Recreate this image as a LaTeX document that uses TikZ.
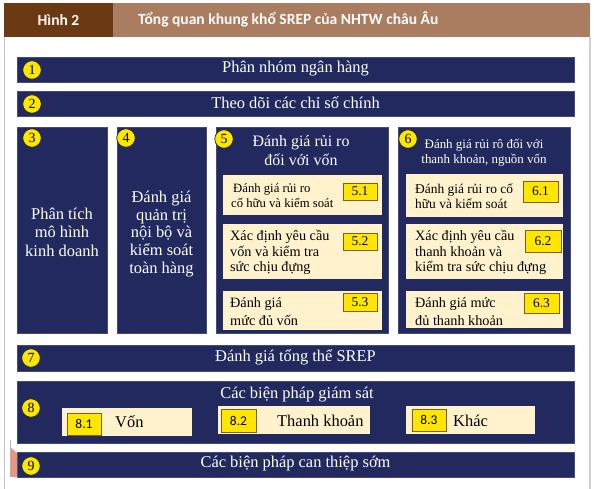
\documentclass[tikz,border=0pt]{standalone}
\usepackage{fontspec}
\setmainfont{Liberation Serif}
\newfontfamily\hdfont{Carlito}
\usetikzlibrary{fit}
\definecolor{navybg}{RGB}{33,41,94}
\definecolor{navyedge}{RGB}{70,76,120}
\definecolor{creambg}{RGB}{255,242,204}
\definecolor{ylw}{RGB}{255,230,0}
\definecolor{labedge}{RGB}{130,95,20}
\definecolor{hddark}{RGB}{107,58,18}
\definecolor{hdlight}{RGB}{170,124,96}
\definecolor{salmon}{RGB}{232,150,125}
\begin{document}
\begin{tikzpicture}[x=1bp,y=-1bp,
  navybox/.style={fill=navybg, draw=navyedge, line width=0.6bp, inner sep=0pt},
  creambox/.style={fill=creambg, draw=none, inner sep=0pt},
  lab/.style={fill=ylw, draw=labedge, line width=0.8bp, inner sep=0pt},
  labtxt/.style={inner sep=0pt, font=\fontsize{13.5}{14}\selectfont},
  labsans/.style={inner sep=0pt, font=\hdfont\fontsize{13.5}{14}\selectfont},
  num/.style={circle, fill=ylw, draw=black!85, line width=0.7bp, minimum size=18.5bp, inner sep=0pt, font=\fontsize{14}{14}\selectfont},
  wtxt/.style={text=white, inner sep=0pt, align=center, font=\fontsize{16.5}{18.5}\selectfont},
  subtxt/.style={inner sep=0pt, align=left, anchor=west, font=\fontsize{14.3}{15.7}\selectfont},
  hdtxt/.style={text=white, inner sep=0pt, font=\hdfont\bfseries\fontsize{15.6}{16}\selectfont}
]
\useasboundingbox (0,0) rectangle (594,489);
\fill[white] (0,0) rectangle (594,489);
% page frame
\draw[gray!45, line width=1bp] (4.5,37) -- (4.5,489);
\draw[gray!35, line width=2.5bp] (590,37) -- (590,489);
% header
\node[fill=hddark, inner sep=0pt, fit={(4,3)(113,37)}] (hA) {};
\node[fill=hdlight, inner sep=0pt, fit={(113,3)(590,37)}] (hB) {};
\node[hdtxt] at (hA.center) {Hình 2};
\node[hdtxt, anchor=west] at (138,19) {Tổng quan khung khổ SREP của NHTW châu Âu};
% box 1
\node[navybox, fit={(17,57)(574,82)}] (b1) {};
\node[wtxt] at ([yshift=1bp]b1.center) {Phân nhóm ngân hàng};
\node[num] at (32,70) {1};
% box 2
\node[navybox, fit={(17,91)(574,116)}] (b2) {};
\node[wtxt] at ([yshift=1bp]b2.center) {Theo dõi các chỉ số chính};
\node[num] at (32,104) {2};
% column 3
\node[navybox, fit={(17,127)(107,333)}] (b3) {};
\node[wtxt] at (62,232) {Phân tích\\mô hình\\kinh doanh};
\node[num] at (32,138) {3};
% column 4
\node[navybox, fit={(117,127)(206,333)}] (b4) {};
\node[wtxt, font=\fontsize{16.5}{17.8}\selectfont] at (161.5,234) {Đánh giá\\quản trị\\nội bộ và\\kiểm soát\\toàn hàng};
\node[num] at (126,138) {4};
% column 5
\node[navybox, fit={(216,127)(388,333)}] (b5) {};
\node[wtxt, font=\fontsize{16}{19}\selectfont] at (301,151) {Đánh giá rủi ro\\đối với vốn};
\node[num] at (224,139) {5};
\node[creambox, fit={(223,175)(382,215)}] (c51) {};
\node[creambox, fit={(223,224)(382,279)}] (c52) {};
\node[creambox, fit={(223,291)(382,330)}] (c53) {};
\node[subtxt, font=\fontsize{12.75}{15}\selectfont] at (231,196) {\hspace*{2bp}Đánh giá rủi ro\\cố hữu và kiểm soát};
\node[subtxt] at (230,252.5) {Xác định yêu cầu\\vốn và kiểm tra\\sức chịu đựng};
\node[subtxt, font=\fontsize{14.3}{17.5}\selectfont] at (230,311.5) {Đánh giá\\mức đủ vốn};
\node[lab, fit={(343,183)(377,200)}] (l51) {};
\node[labtxt] at (l51.center) {5.1};
\node[lab, fit={(343,233)(377,250)}] (l52) {};
\node[labtxt] at (l52.center) {5.2};
\node[lab, fit={(343,293)(377,311)}] (l53) {};
\node[labtxt] at (l53.center) {5.3};
% column 6
\node[navybox, fit={(398,127)(570,333)}] (b6) {};
\node[wtxt, font=\fontsize{13}{15}\selectfont] at (484,153) {Đánh giá rủi rô đối với\\thanh khoản, nguồn vốn};
\node[num] at (408,139) {6};
\node[creambox, fit={(406,174)(563,217)}] (c61) {};
\node[creambox, fit={(406,224)(563,279)}] (c62) {};
\node[creambox, fit={(406,291)(563,328)}] (c63) {};
\node[subtxt, font=\fontsize{13.5}{15.5}\selectfont] at (415,196) {Đánh giá rủi ro cố\\hữu và kiểm soát};
\node[subtxt] at (415,252.5) {Xác định yêu cầu\\thanh khoản và\\kiểm tra sức chịu đựng};
\node[subtxt, font=\fontsize{14.3}{17.5}\selectfont] at (415,311.5) {Đánh giá mức\\đủ thanh khoản};
\node[lab, fit={(523,181)(558,202)}] (l61) {};
\node[labtxt] at (l61.center) {6.1};
\node[lab, fit={(525,230)(561,252)}] (l62) {};
\node[labtxt] at (l62.center) {6.2};
\node[lab, fit={(524,293)(559,313)}] (l63) {};
\node[labtxt] at (l63.center) {6.3};
% box 7
\node[navybox, fit={(17,345)(574,371)}] (b7) {};
\node[wtxt] at ([yshift=1bp]b7.center) {Đánh giá tổng thể SREP};
\node[num] at (31,358) {7};
% box 8
\node[navybox, fit={(17,381)(574,443)}] (b8) {};
\node[wtxt] at (297,395) {Các biện pháp giám sát};
\node[num] at (31,408) {8};
\node[creambox, fit={(62,408)(192,436)}] (c81) {};
\node[creambox, fit={(218,406)(370,434)}] (c82) {};
\node[creambox, fit={(406,406)(535,434)}] (c83) {};
\node[lab, fit={(67,413)(101,435)}] (l81) {};
\node[labsans] at (l81.center) {8.1};
\node[lab, fit={(221,409)(256,432)}] (l82) {};
\node[labsans] at (l82.center) {8.2};
\node[lab, fit={(412,409)(446,431)}] (l83) {};
\node[labsans] at (l83.center) {8.3};
\node[inner sep=0pt, anchor=west, font=\fontsize{16.5}{18}\selectfont] at (115,422) {Vốn};
\node[inner sep=0pt, anchor=west, font=\fontsize{16.5}{18}\selectfont] at (277,421) {Thanh khoản};
\node[inner sep=0pt, anchor=west, font=\fontsize{16.5}{18}\selectfont] at (453,421) {Khác};
% box 9
\node[navybox, fit={(17,452)(574,477)}] (b9) {};
\node[wtxt] at ([yshift=1bp]b9.center) {Các biện pháp can thiệp sớm};
\fill[salmon] (10,447) -- (17,453) -- (17,477) -- (11,477) -- cycle;
\draw[gray!60, line width=0.5bp] (10,440) -- (10,477);
\node[num] at (31,466) {9};
\end{tikzpicture}
\end{document}
